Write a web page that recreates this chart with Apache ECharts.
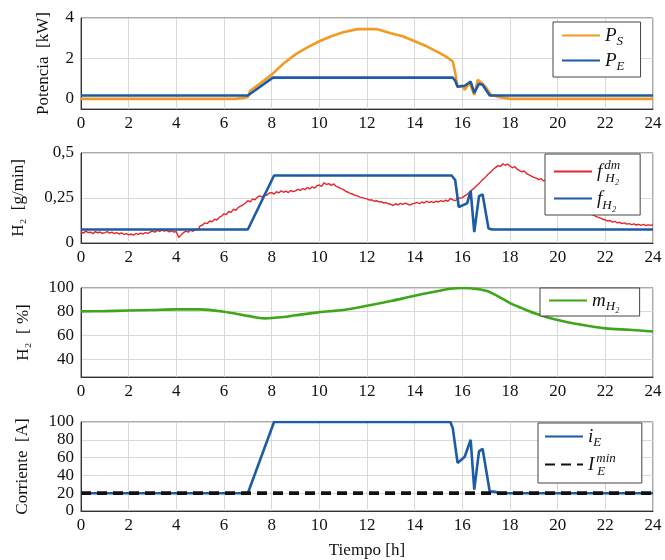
<!DOCTYPE html>
<html><head><meta charset="utf-8">
<script src="https://cdn.jsdelivr.net/npm/echarts@6/dist/echarts.min.js"></script>
<style>html,body{margin:0;padding:0;background:#fff}#c{width:665px;height:560px}</style>
</head><body><div id="c"></div>
<script>
// ---- data ----
const xTickLabels = [0,2,4,6,8,10,12,14,16,18,20,22,24];
// Panel 1: power
const psX = [0,6.5,6.8,7,7.1,7.5,8,8.5,9,9.5,10,10.5,11,11.6,12.4,13,13.5,14,14.5,15,15.3,15.6,15.7,15.8,16.0,16.1,16.3,16.5,16.65,16.8,17.0,17.2,17.5,18,24];
const psY = [0,0,0.05,0.1,0.4,0.75,1.2,1.75,2.2,2.55,2.85,3.1,3.3,3.45,3.45,3.25,3.1,2.85,2.6,2.3,2.1,1.85,1.3,0.6,0.65,0.45,0.8,0.2,0.95,0.8,0.55,0.2,0.1,0,0];
const peX = [0,7,8.05,15.6,15.7,15.8,16.1,16.35,16.5,16.7,16.85,17.15,24];
const peY = [0.17,0.17,1.05,1.05,0.9,0.6,0.65,0.85,0.3,0.75,0.7,0.17,0.17];
// Panel 2: hydrogen flow
const fdmStart = 0, fdmStep = 0.1;
const fdmY = [
0.062,0.055,0.066,0.058,0.060,0.052,0.063,0.057,0.061,0.054,
0.058,0.063,0.055,0.060,0.052,0.058,0.050,0.056,0.047,0.052,
0.045,0.050,0.044,0.053,0.048,0.055,0.050,0.058,0.053,0.061,
0.066,0.060,0.070,0.064,0.072,0.066,0.070,0.062,0.068,0.060,
0.064,0.030,0.045,0.058,0.066,0.060,0.072,0.065,0.078,0.072,
0.095,0.100,0.112,0.108,0.122,0.118,0.132,0.128,0.142,0.150,
0.162,0.158,0.175,0.170,0.188,0.182,0.198,0.205,0.212,0.222,
0.235,0.228,0.245,0.240,0.255,0.262,0.255,0.270,0.265,0.278,
0.280,0.272,0.285,0.278,0.290,0.282,0.288,0.280,0.292,0.285,
0.290,0.298,0.292,0.302,0.296,0.308,0.300,0.312,0.305,0.318,
0.322,0.315,0.335,0.325,0.330,0.320,0.328,0.315,0.310,0.302,
0.298,0.288,0.282,0.275,0.272,0.265,0.262,0.255,0.252,0.248,
0.245,0.238,0.240,0.232,0.235,0.228,0.230,0.222,0.225,0.218,
0.215,0.208,0.218,0.212,0.220,0.214,0.222,0.216,0.210,0.218,
0.220,0.226,0.218,0.228,0.222,0.232,0.225,0.230,0.224,0.232,
0.228,0.235,0.230,0.238,0.232,0.248,0.240,0.235,0.245,0.250,
0.252,0.262,0.270,0.282,0.295,0.305,0.318,0.330,0.345,0.358,
0.370,0.385,0.395,0.410,0.420,0.430,0.425,0.440,0.432,0.438,
0.428,0.418,0.425,0.410,0.402,0.395,0.400,0.385,0.378,0.372,
0.365,0.360,0.352,0.358,0.345,0.350,0.338,0.330,0.322,0.315,
0.305,0.295,0.285,0.272,0.262,0.250,0.238,0.225,0.212,0.200,
0.190,0.182,0.175,0.168,0.160,0.155,0.148,0.142,0.138,0.132,
0.128,0.122,0.125,0.116,0.120,0.112,0.115,0.108,0.112,0.105,
0.108,0.102,0.106,0.100,0.104,0.098,0.103,0.097,0.101,0.099,0.100];
const fX = [0,7,8.1,15.55,15.7,15.85,16.2,16.35,16.5,16.7,16.85,17.1,17.25,24];
const fY = [0.075,0.075,0.375,0.375,0.35,0.2,0.22,0.29,0.06,0.26,0.27,0.08,0.075,0.075];
// Panel 3: hydrogen level
const mX = [0,1,2,3,4,5,6,7,7.7,8.5,9,10,11,12,13,14,15,15.5,16,16.3,17,17.5,18,18.5,19,20,21,22,23,24];
const mY = [80.3,80.5,81,81.5,82,82,80,76.5,74.4,75.5,77,79.7,81.5,85,89,93.5,97.5,99.4,100,99.8,97.7,93,87.3,83,79,73,69,66,64.8,63.4];
// Panel 4: current
const iX = [0,7,8.1,15.5,15.6,15.8,16.1,16.35,16.5,16.7,16.85,17.15,17.4,17.5,24];
const iY = [20,20,100,100,93,54,61,80,24,67,70,22,21.5,20,20];
const iminX = [0,24];
const iminY = [20,20];

const yTicks1 = [0,2,4];
const yTicks3 = [40,60,80,100];

// ---- chart ----
const pair = (xs, ys) => xs.map((x,i)=>[x, ys[i]]);
const fdmData = fdmY.map((v,i)=>[+(fdmStart + i*fdmStep).toFixed(2), v]);

const FONT = 'Liberation Serif';
const C_OR = '#f39a22', C_BL = '#1d5ba4', C_RD = '#e3262c', C_GR = '#3da61a';
const grids = [
  {left:81, right:12, top:18, height:91},
  {left:81, right:12, top:153, height:90},
  {left:81, right:12, top:288, height:89},
  {left:81, right:12, top:422, height:89}
].map(g=>Object.assign(g,{show:true, borderColor:'#555', borderWidth:1, backgroundColor:'transparent', outerBoundsMode:'none', containLabel:false}));

const gridLine = {show:true, lineStyle:{color:'#d8d8d8', width:1}};
const axLabel = {color:'#111', fontFamily:FONT, fontSize:17};
const xAxes = [0,1,2,3].map(i=>({
  type:'value', gridIndex:i, min:0, max:24, interval:2,
  axisLine:{show:true, onZero:false, lineStyle:{color:'#333'}}, axisTick:{show:false},
  splitLine:gridLine,
  axisLabel:Object.assign({margin:6, formatter:v=>String(v)}, axLabel),
  name: i===3 ? 'Tiempo [h]' : '', nameLocation:'middle', nameGap:31,
  nameTextStyle:{color:'#111', fontFamily:FONT, fontSize:17}
}));
const yName = (txt, gap)=>({name:txt, nameLocation:'middle', nameGap:gap, nameRotate:90,
  nameTextStyle:{color:'#111', fontFamily:FONT, fontSize:17}});
const yBase = {type:'value', axisLine:{show:true, onZero:false, lineStyle:{color:'#333'}}, axisTick:{show:false}, splitLine:gridLine};
const yAxes = [
  Object.assign({}, yBase, yName('Potencia  [kW]', 29), {gridIndex:0, min:-0.5, max:4,
    axisLabel:Object.assign({margin:7, customValues:yTicks1}, axLabel), axisTick:{show:false, customValues:yTicks1}}),
  Object.assign({}, yBase, yName('H₂  [g/min]', 54), {gridIndex:1, min:0, max:0.5, interval:0.25,
    axisLabel:Object.assign({margin:7, formatter:v=>String(v).replace('.',',')}, axLabel)}),
  Object.assign({}, yBase, yName('H₂  [ %]', 49), {gridIndex:2, min:25, max:100,
    axisLabel:Object.assign({margin:7, customValues:yTicks3}, axLabel), axisTick:{show:false, customValues:yTicks3}}),
  Object.assign({}, yBase, yName('Corriente  [A]', 50), {gridIndex:3, min:0, max:100, interval:20,
    axisLabel:Object.assign({margin:7}, axLabel)})
];

const rich = {
  i:{fontFamily:FONT, fontStyle:'italic', fontSize:19, color:'#111'},
  sub:{fontFamily:FONT, fontStyle:'italic', fontSize:13, color:'#111', padding:[12,0,0,0]},
  sup:{fontFamily:FONT, fontStyle:'italic', fontSize:13, color:'#111', padding:[0,0,12,2], width:1},
  sub2:{fontFamily:FONT, fontStyle:'italic', fontSize:13, color:'#111', padding:[14,0,0,0]}
};
const labels = {
  'PS':'{i|P}{sub|S}', 'PE':'{i|P}{sub|E}',
  'fdm':'{i|f}{sup|dm}{sub2|H₂}', 'f':'{i|f}{sub2|H₂}',
  'm':'{i|m}{sub|H₂}',
  'i':'{i|i}{sub|E}', 'imin':'{i|I}{sup|min}{sub2|E}'
};
const legBase = {orient:'vertical', backgroundColor:'#fff', borderColor:'#444', borderWidth:1,
  itemWidth:38, itemHeight:12, textStyle:{rich:rich}, formatter:n=>labels[n],
  itemStyle:{opacity:0}};
const legends = [
  Object.assign({}, legBase, {data:['PS','PE'], left:553, top:22, padding:[4,16,4,8], itemGap:3}),
  Object.assign({}, legBase, {data:['fdm','f'], left:545, top:154, padding:[5,20,3,8], itemGap:4}),
  Object.assign({}, legBase, {data:['m'], left:540, top:288, padding:[3,20,3,8]}),
  Object.assign({}, legBase, {data:['i','imin'], left:538, top:423, padding:[4,26,5,6], itemGap:3})
];

const line = (name, data, xi, color, width, extra)=>Object.assign({
  name, type:'line', data, xAxisIndex:xi, yAxisIndex:xi, symbol:'none', animation:false,
  lineStyle:{color, width}, itemStyle:{color}
}, extra||{});

const option = {
  animation:false,
  grid:grids, xAxis:xAxes, yAxis:yAxes, legend:legends,
  series:[
    line('PS', pair(psX,psY), 0, C_OR, 2.6),
    line('PE', pair(peX,peY), 0, C_BL, 2.6),
    line('fdm', fdmData, 1, C_RD, 1.4),
    line('f', pair(fX,fY), 1, C_BL, 2.6),
    line('m', pair(mX,mY), 2, C_GR, 2.6, {smooth:0.3}),
    line('i', pair(iX,iY), 3, C_BL, 2.6),
    line('imin', pair(iminX,iminY), 3, '#111', 3.8, {lineStyle:{color:'#111', width:3.8, type:[10,6]}})
  ]
};
const chart = echarts.init(document.getElementById('c'), null, {renderer:'canvas'});
chart.setOption(option);
</script></body></html>
